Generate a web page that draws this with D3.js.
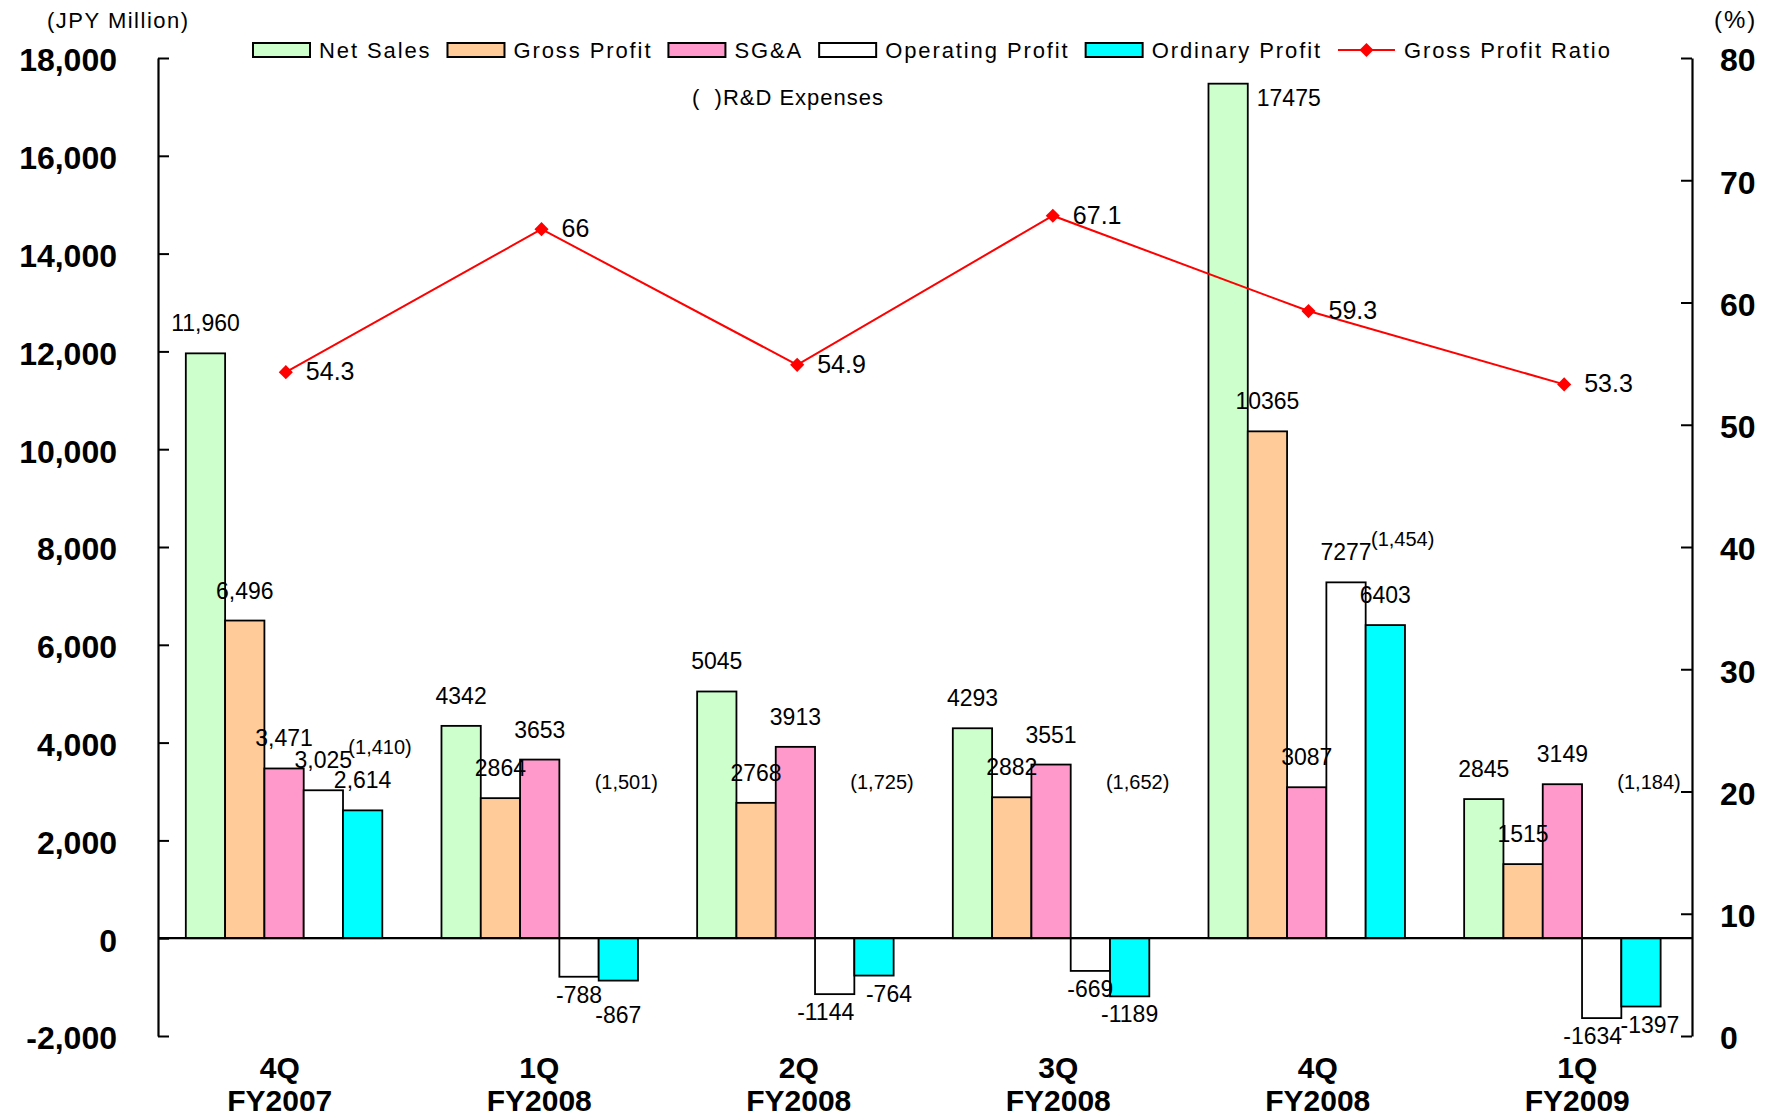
<!DOCTYPE html>
<html>
<head>
<meta charset="utf-8">
<script src="https://cdn.jsdelivr.net/npm/d3@7"></script>
<style>
  body { margin: 0; background: #ffffff; }
  svg text { font-family: "Liberation Sans", Arial, Helvetica, sans-serif; fill: #000; }
</style>
</head>
<body>
<svg id="chart" width="1770" height="1120"></svg>
<script>
// Quarterly results, JPY million
const quarters = ["4Q", "1Q", "2Q", "3Q", "4Q", "1Q"];
const fiscalYears = ["FY2007", "FY2008", "FY2008", "FY2008", "FY2008", "FY2009"];

const netSales        = [11960, 4342, 5045, 4293, 17475, 2845];
const grossProfit     = [6496, 2864, 2768, 2882, 10365, 1515];
const sga             = [3471, 3653, 3913, 3551, 3087, 3149];
const operatingProfit = [3025, -788, -1144, -669, 7277, -1634];
const ordinaryProfit  = [2614, -867, -764, -1189, 6403, -1397];
const rdExpenses      = [1410, 1501, 1725, 1652, 1454, 1184];
const grossProfitRatio = [54.3, 66, 54.9, 67.1, 59.3, 53.3];   // %

const seriesNames  = ["Net Sales", "Gross Profit", "SG&A", "Operating Profit", "Ordinary Profit"];
const seriesColors = ["#CCFFCC", "#FFCC99", "#FF99CC", "#FFFFFF", "#00FFFF"];
const seriesValues = [netSales, grossProfit, sga, operatingProfit, ordinaryProfit];
const ratioName = "Gross Profit Ratio";

const leftTicks  = d3.range(-2000, 18001, 2000);
const rightTicks = d3.range(0, 81, 10);
// the first period prints its figures with thousands separators
const groupedFigures = [true, false, false, false, false, false];

const periods = quarters.map((q, i) => q + " " + fiscalYears[i]);
const FONT = '"Liberation Sans", Arial, Helvetica, sans-serif';

// plain hyphen for negative numbers
const locale = d3.formatLocale({ decimal: ".", thousands: ",", grouping: [3], currency: ["", ""], minus: "-" });
const fmtComma = locale.format(",");
const fmtPlain = locale.format("d");

const svg = d3.select("#chart");
const plot = { left: 158, right: 1692, top: 58, bottom: 1036 };

const x0 = d3.scaleBand().domain(periods).range([plot.left, plot.right]);
const x1 = d3.scaleBand().domain(seriesNames).range([0, x0.bandwidth()])
  .paddingInner(0).paddingOuter(0.753).align(0.47);
const xLabel = d3.scaleBand().domain(periods).range([150, 1707]);
const y  = d3.scaleLinear().domain([-2000, 18000]).range([plot.bottom, plot.top]);
const yR = d3.scaleLinear().domain([0, 80]).range([plot.bottom, plot.top]);
const colorOf = d3.scaleOrdinal().domain(seriesNames).range(seriesColors);

// ---------- bars ----------
const barData = [];
periods.forEach((p, i) => {
  seriesNames.forEach((s, k) => {
    barData.push({ period: p, pi: i, series: s, k, value: seriesValues[k][i] });
  });
});

svg.append("g").attr("class", "bars")
  .selectAll("rect").data(barData).join("rect")
  .attr("x", d => x0(d.period) + x1(d.series))
  .attr("width", x1.bandwidth())
  .attr("y", d => y(Math.max(0, d.value)))
  .attr("height", d => Math.abs(y(d.value) - y(0)))
  .attr("fill", d => colorOf(d.series))
  .attr("stroke", "#000")
  .attr("stroke-width", 1.8);

// ---------- zero line ----------
svg.append("line")
  .attr("x1", plot.left).attr("x2", plot.right)
  .attr("y1", y(0)).attr("y2", y(0))
  .attr("stroke", "#000").attr("stroke-width", 2.2);

// ---------- axes ----------
function styleAxis(g) {
  g.attr("font-family", null).attr("font-size", null);
  g.select(".domain").attr("stroke", "#000").attr("stroke-width", 2.2);
  g.selectAll(".tick line").attr("stroke", "#000").attr("stroke-width", 2);
  g.selectAll(".tick text")
    .attr("dy", "0.4em")
    .style("font-family", FONT)
    .style("font-size", "32px")
    .style("font-weight", "bold");
}

svg.append("g")
  .attr("transform", `translate(${plot.left},0)`)
  .call(d3.axisLeft(y).tickValues(leftTicks).tickFormat(fmtComma)
    .tickSizeInner(-11).tickSizeOuter(0).tickPadding(41))
  .call(styleAxis);

svg.append("g")
  .attr("transform", `translate(${plot.right},0)`)
  .call(d3.axisRight(yR).tickValues(rightTicks).tickFormat(fmtPlain)
    .tickSizeInner(-11).tickSizeOuter(0).tickPadding(28))
  .call(styleAxis);

// unit captions
svg.append("text").attr("x", 47).attr("y", 28)
  .style("font-size", "22px").style("letter-spacing", "1.5px")
  .text("(JPY Million)");
svg.append("text").attr("x", 1714).attr("y", 28)
  .style("font-size", "24px").style("letter-spacing", "2px")
  .text("(%)");

// category labels
const cat = svg.append("g").attr("class", "categories");
periods.forEach((p, i) => {
  const cx = xLabel(p) + xLabel.bandwidth() / 2;
  cat.append("text").attr("x", cx).attr("y", 1078).attr("text-anchor", "middle")
    .style("font-size", "30px").style("font-weight", "bold").text(quarters[i]);
  cat.append("text").attr("x", cx).attr("y", 1111).attr("text-anchor", "middle")
    .style("font-size", "30px").style("font-weight", "bold").text(fiscalYears[i]);
});

// ---------- bar value labels ----------
const fmtOf = i => groupedFigures[i] ? fmtComma : fmtPlain;
const labels = svg.append("g").attr("class", "bar-labels")
  .style("font-size", "23px");

const negPos = {};
barData.forEach(d => {
  const bx = x0(d.period) + x1(d.series);
  const cx = bx + x1.bandwidth() / 2;
  const txt = fmtOf(d.pi)(d.value);
  if (d.value >= 0) {
    const top = y(d.value);
    if (top - 22 < 80) {
      // no room above the bar: print beside it
      labels.append("text").attr("x", bx + x1.bandwidth() + 9).attr("y", top + 22)
        .attr("text-anchor", "start").text(txt);
    } else {
      labels.append("text").attr("x", cx).attr("y", top - 22)
        .attr("text-anchor", "middle").text(txt);
    }
  } else {
    negPos[d.pi] = negPos[d.pi] || {};
    negPos[d.pi][d.series] = { cx, by: y(d.value) + 26, txt };
  }
});

// negative figures sit under their bars, nudged apart when they collide
Object.values(negPos).forEach(g => {
  const op = g["Operating Profit"], ord = g["Ordinary Profit"];
  if (op && ord) {
    const dy = ord.by - op.by;
    if (Math.abs(dy) < 8) {
      ord.by = op.by + 20;
    } else if (dy < -15 && dy > -22) {
      op.cx -= 9; ord.cx += 15;
    } else if (Math.abs(dy) < 18) {
      op.cx -= 9; ord.cx += 9;
    }
  }
  [op, ord].forEach(l => {
    if (!l) return;
    labels.append("text").attr("x", l.cx).attr("y", l.by)
      .attr("text-anchor", "middle").text(l.txt);
  });
});

// R&D expenses in brackets next to the profit bars
const rd = svg.append("g").attr("class", "rd-labels").style("font-size", "20px");
periods.forEach((p, i) => {
  const opCx = x0(p) + x1("Operating Profit") + x1.bandwidth() / 2;
  const ordCx = x0(p) + x1("Ordinary Profit") + x1.bandwidth() / 2;
  const label = "(" + fmtComma(rdExpenses[i]) + ")";
  if (operatingProfit[i] > 0) {
    // tucked in after the operating profit figure
    rd.append("text").attr("x", opCx + 25).attr("y", y(operatingProfit[i]) - 36)
      .attr("text-anchor", "start").text(label);
  } else {
    rd.append("text").attr("x", ordCx + 8).attr("y", y(2400) - 32)
      .attr("text-anchor", "middle").text(label);
  }
});

// ---------- gross profit ratio line ----------
const px = (d, i) => x0(periods[i]) + x0.bandwidth() / 2;
svg.append("path")
  .datum(grossProfitRatio)
  .attr("fill", "none")
  .attr("stroke", "#FF0000")
  .attr("stroke-width", 2)
  .attr("d", d3.line().x(px).y(d => yR(d)));

const diamond = d3.symbol().type(d3.symbolSquare).size(100);
svg.append("g").selectAll("path").data(grossProfitRatio).join("path")
  .attr("d", diamond)
  .attr("transform", (d, i) => `translate(${px(d, i)},${yR(d)}) rotate(45)`)
  .attr("fill", "#FF0000");

svg.append("g").style("font-size", "25px")
  .selectAll("text").data(grossProfitRatio).join("text")
  .attr("x", (d, i) => px(d, i) + 20)
  .attr("y", d => yR(d) + 8)
  .text(d => String(d));

// ---------- legend ----------
const legend = svg.append("g").attr("class", "legend");
let lx = 253;
const swW = 57, swH = 14, swY = 43, textY = 58;
const legendItems = seriesNames.map((s, k) => ({ name: s, color: seriesColors[k], kind: "bar" }))
  .concat([{ name: ratioName, color: "#FF0000", kind: "line" }]);

legendItems.forEach(item => {
  if (item.kind === "bar") {
    legend.append("rect").attr("x", lx).attr("y", swY).attr("width", swW).attr("height", swH)
      .attr("fill", item.color).attr("stroke", "#000").attr("stroke-width", 2);
  } else {
    legend.append("line").attr("x1", lx).attr("x2", lx + swW)
      .attr("y1", swY + swH / 2).attr("y2", swY + swH / 2)
      .attr("stroke", item.color).attr("stroke-width", 2);
    legend.append("path").attr("d", diamond)
      .attr("transform", `translate(${lx + swW / 2},${swY + swH / 2}) rotate(45)`)
      .attr("fill", item.color);
  }
  const t = legend.append("text").attr("x", lx + swW + 9).attr("y", textY)
    .style("font-size", "22px").style("letter-spacing", "1.9px")
    .text(item.name);
  lx = lx + swW + 9 + t.node().getBBox().width + 16;
});

svg.append("text").attr("x", 692).attr("y", 105)
  .style("font-size", "22px").style("letter-spacing", "1px")
  .text("(\u00a0\u00a0)R&D Expenses");
</script>
</body>
</html>
